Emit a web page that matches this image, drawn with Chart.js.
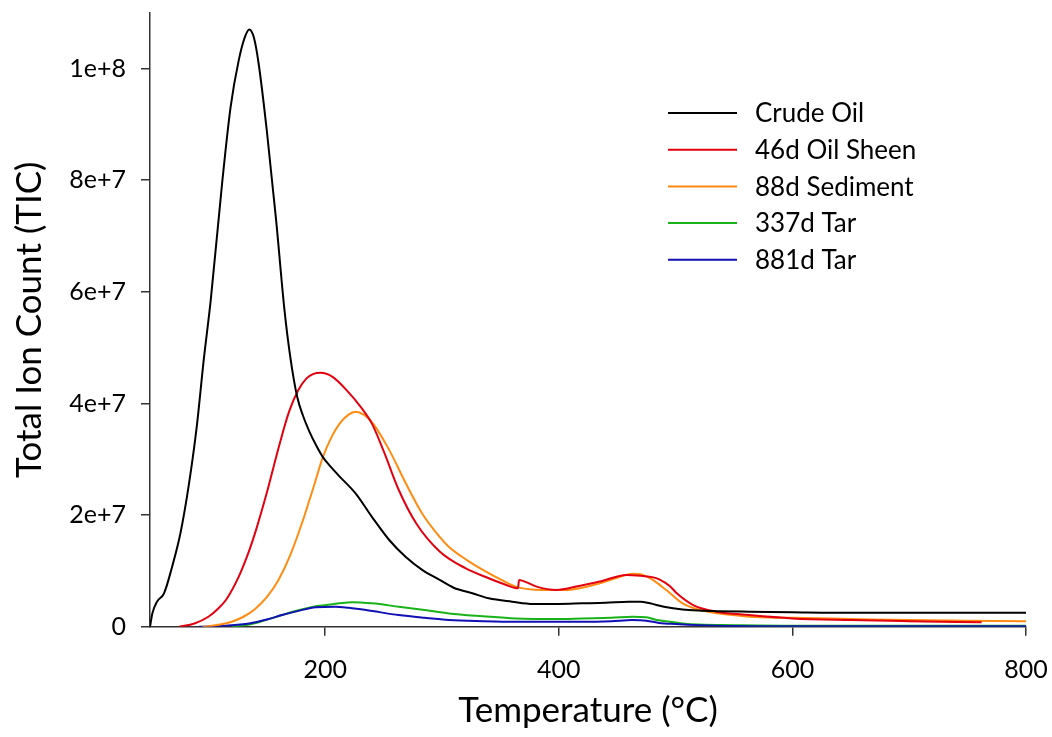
<!DOCTYPE html>
<html>
<head>
<meta charset="utf-8">
<title>Total Ion Count vs Temperature</title>
<script src="https://cdn.jsdelivr.net/npm/chart.js@4"></script>
<style>
  html, body { margin: 0; padding: 0; background: #fff; }
</style>
</head>
<body>
<canvas id="chart1" width="1052" height="737"></canvas>
<script>
// temperatures (°C) and TIC values (in millions)
const crudeT = [50, 52, 56, 62, 69, 76, 83, 90, 96, 102, 112, 119, 126, 131, 135, 139, 143, 150, 158, 165, 170, 176, 181, 186, 192, 198, 205, 212, 226, 240, 255, 269, 283, 298, 310, 326, 340, 360, 378, 400, 420, 440, 460, 470, 478, 490, 506, 520, 535, 563, 600, 650, 700, 750, 800];
const crudeY = [0, 2.4, 4.5, 6.0, 10.8, 16.7, 25.1, 35.8, 47.8, 58.5, 80, 93.1, 101.5, 105.5, 107, 105.5, 100.9, 88.9, 72.8, 57.0, 48.5, 41.2, 37.8, 35.2, 32.6, 30.4, 28.6, 27.0, 23.9, 19.7, 15.5, 12.5, 10.2, 8.4, 7.0, 6.0, 5.1, 4.5, 4.1, 4.1, 4.2, 4.3, 4.5, 4.5, 4.2, 3.6, 3.1, 2.9, 2.8, 2.7, 2.6, 2.5, 2.5, 2.5, 2.5];

const sheenT = [75, 88, 100, 108, 115, 126, 135, 141, 150, 155, 160, 169, 177, 184, 190, 196, 206, 220, 230, 240, 250, 263, 278, 298, 320, 340, 355, 365, 366, 372, 381, 398, 415, 435, 458, 472, 480, 486, 495, 501, 515, 535, 563, 600, 650, 700, 762];
const sheenY = [0, 0.6, 1.8, 3.2, 4.8, 9.0, 13.7, 17.5, 24.0, 28.0, 32.0, 38.5, 42.4, 44.5, 45.3, 45.5, 44.8, 42.0, 39.5, 36.4, 31.5, 24.5, 18.5, 13.5, 10.5, 8.7, 7.5, 6.9, 8.4, 8.0, 7.2, 6.6, 7.2, 8.1, 9.3, 9.1, 8.9, 8.5, 7.3, 6.0, 3.9, 2.7, 2.1, 1.5, 1.2, 1.0, 0.8];

const sedT = [95, 110, 120, 130, 140, 150, 160, 170, 180, 190, 198, 205, 212, 220, 226, 233, 241, 255, 269, 283, 298, 306, 321, 335, 350, 363, 386, 406, 420, 435, 450, 463, 470, 478, 492, 506, 521, 549, 563, 600, 650, 700, 750, 800];
const sedY = [0, 0.4, 0.9, 1.8, 3.2, 5.3, 8.4, 12.8, 18.5, 25.0, 30.4, 33.8, 36.3, 38.0, 38.5, 38.0, 36.4, 31.6, 25.7, 20.3, 16.1, 14.3, 12.0, 10.2, 8.5, 7.2, 6.6, 6.6, 7.0, 7.8, 8.8, 9.5, 9.4, 8.7, 6.6, 4.2, 3.0, 2.1, 1.8, 1.6, 1.4, 1.2, 1.1, 1.0];

const tar337T = [120, 135, 149, 163, 178, 190, 201, 212, 223, 240, 263, 285, 306, 335, 363, 400, 420, 445, 463, 475, 484, 495, 506, 520, 550, 600, 700, 800];
const tar337Y = [0, 0.4, 1.2, 2.1, 3.0, 3.6, 3.9, 4.2, 4.4, 4.2, 3.6, 3.0, 2.4, 1.9, 1.5, 1.4, 1.5, 1.6, 1.8, 1.7, 1.2, 0.9, 0.6, 0.4, 0.3, 0.2, 0.2, 0.2];

const tar881T = [92, 115, 135, 150, 163, 178, 192, 209, 220, 235, 263, 285, 306, 335, 363, 420, 445, 463, 475, 486, 500, 520, 550, 600, 700, 800];
const tar881Y = [0, 0.2, 0.6, 1.3, 2.1, 2.9, 3.5, 3.6, 3.4, 3.0, 2.1, 1.6, 1.2, 1.0, 0.9, 0.9, 1.0, 1.2, 1.1, 0.7, 0.5, 0.3, 0.15, 0.1, 0.1, 0.1];

const xTicks = [200, 400, 600, 800];
const yTicks = [0, 2e7, 4e7, 6e7, 8e7, 1e8];

// T + value arrays -> {x, y} points
function pts(t, v) {
    return t.map((x, i) => ({ x: x, y: v[i] * 1e6 }));
}

function serie(label, t, v, color, order) {
    return {
        label: label,
        data: pts(t, v),
        borderColor: color,
        backgroundColor: color,
        borderWidth: 2,
        pointRadius: 0,
        cubicInterpolationMode: 'monotone',
        order: order
    };
}

// legend inside the plot, top right
const legendPlugin = {
    id: 'icLegend',
    afterDatasetsDraw(chart) {
        const ctx = chart.ctx;
        ctx.save();
        ctx.font = '26px Lato';
        ctx.textBaseline = 'middle';
        chart.data.datasets.forEach((ds, i) => {
            const y = 113 + i * 36.7;
            ctx.strokeStyle = ds.borderColor;
            ctx.lineWidth = 2;
            ctx.beginPath();
            ctx.moveTo(668, y);
            ctx.lineTo(737, y);
            ctx.stroke();
            ctx.fillStyle = '#000';
            ctx.fillText(ds.label, 755, y + 1);
        });
        ctx.restore();
    }
};

const axisColor = '#333';
const tickFont = { family: 'Lato', size: 25 };
const titleFont = { family: 'Lato', size: 35 };

const ctx = document.getElementById('chart1').getContext('2d');
const myChart = new Chart(ctx, {
    type: 'line',
    data: {
        datasets: [
            serie('Crude Oil', crudeT, crudeY, '#000000', 0),
            serie('46d Oil Sheen', sheenT, sheenY, '#e3000f', 1),
            serie('88d Sediment', sedT, sedY, '#ff8c11', 2),
            serie('337d Tar', tar337T, tar337Y, '#19b319', 4),
            serie('881d Tar', tar881T, tar881Y, '#1010b4', 3)
        ]
    },
    options: {
        responsive: false,
        animation: false,
        layout: { padding: { top: 12.7, right: 26, left: 0, bottom: 0 } },
        plugins: {
            legend: { display: false },
            tooltip: { enabled: false }
        },
        scales: {
            x: {
                type: 'linear',
                min: 50,
                max: 800,
                afterBuildTicks: s => { s.ticks = xTicks.map(v => ({ value: v })); },
                afterFit: s => { s.height = 110.2; s.paddingLeft = 0; s.paddingRight = 0; },
                grid: { drawOnChartArea: false, drawTicks: true, tickLength: 9, color: axisColor, lineWidth: 1.5 },
                border: { color: axisColor, width: 1.5 },
                ticks: { font: tickFont, color: '#000', padding: 19, maxRotation: 0, autoSkip: false },
                title: { display: true, text: 'Temperature (°C)', font: titleFont, color: '#000', padding: { top: 0, bottom: 5 } }
            },
            y: {
                min: 0,
                max: 1.1e8,
                afterBuildTicks: s => { s.ticks = yTicks.map(v => ({ value: v })); },
                afterFit: s => { s.width = 150; s.paddingTop = 0; s.paddingBottom = 0; },
                grid: { drawOnChartArea: false, drawTicks: true, tickLength: 9, color: axisColor, lineWidth: 1.5 },
                border: { color: axisColor, width: 1.5 },
                ticks: {
                    font: tickFont,
                    color: '#000',
                    padding: 15,
                    callback: v => v === 0 ? '0' : v.toExponential()
                },
                title: { display: true, text: 'Total Ion Count (TIC)', font: titleFont, color: '#000', padding: { top: 9, bottom: 0 } }
            }
        }
    },
    plugins: [legendPlugin]
});
</script>
</body>
</html>
